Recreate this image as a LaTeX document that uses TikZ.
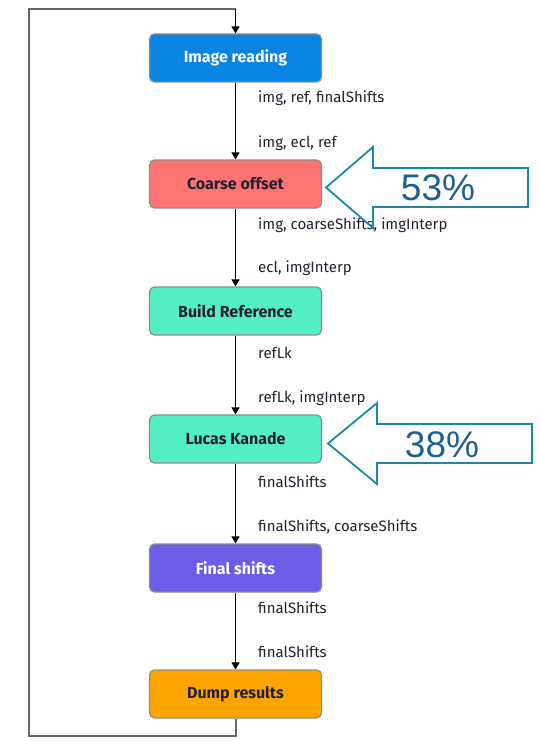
\documentclass[tikz,border=0pt]{standalone}
\usepackage{fontspec}
\setmainfont{Fira Sans}
\newfontfamily\pctfont{Liberation Sans}
\usetikzlibrary{arrows.meta}
\definecolor{cblue}{HTML}{0A84E3}
\definecolor{cred}{HTML}{FF7472}
\definecolor{cmint}{HTML}{55EFC4}
\definecolor{cviolet}{HTML}{6C5CE7}
\definecolor{corange}{HTML}{FFA502}
\definecolor{ctext}{HTML}{24202E}
\definecolor{cteal}{HTML}{1A88AA}
\definecolor{cpct}{HTML}{1E5F8E}
\begin{document}
\begin{tikzpicture}[x=1pt,y=-1pt,
  stage/.style={draw=black!45, line width=1.2pt, rounded corners=5pt,
    minimum width=172pt, minimum height=48pt, font=\fontsize{16}{18}\selectfont\bfseries, inner sep=0pt},
  lbl/.style={anchor=west, text=ctext, font=\fontsize{15}{17}\selectfont, inner sep=0pt},
  flow/.style={draw=black, line width=1.1pt, -{Triangle[width=8pt,length=7pt]}},
  loopline/.style={draw=black!60, line width=2pt},
  hollow/.style={draw=cteal, line width=1.8pt, line join=miter},
  pct/.style={text=cpct, font=\fontsize{37}{40}\selectfont\pctfont, inner sep=0pt}]
\useasboundingbox (0,0) rectangle (539,741);

% pipeline stages
\node[stage, fill=cblue, text=white] (img) at (235.5,58) {Image reading};
\node[stage, fill=cred, text=ctext] (coarse) at (235.5,184) {Coarse offset};
\node[stage, fill=cmint, text=ctext] (build) at (235.5,311) {Build Reference};
\node[stage, fill=cmint, text=ctext] (lk) at (235.5,439) {Lucas Kanade};
\node[stage, fill=cviolet, text=white] (final) at (235.5,568) {Final shifts};
\node[stage, fill=corange, text=ctext] (dump) at (235.5,694) {Dump results};

% data passed between stages
\node[lbl] (o1) at (258,98) {img, ref, finalShifts};
\node[lbl] (i1) at (258,143) {img, ecl, ref};
\node[lbl] (o2) at (258,225) {img, coarseShifts, imgInterp};
\node[lbl] (i2) at (258,268) {ecl, imgInterp};
\node[lbl] (o3) at (258,353) {refLk};
\node[lbl] (i3) at (258,398) {refLk, imgInterp};
\node[lbl] (o4) at (258,482) {finalShifts};
\node[lbl] (i4) at (258,527) {finalShifts, coarseShifts};
\node[lbl] (o5) at (258,608) {finalShifts};
\node[lbl] (i5) at (258,652) {finalShifts};

% stage-to-stage flow
\draw[flow] (img.south) -- (coarse.north);
\draw[flow] (coarse.south) -- (build.north);
\draw[flow] (build.south) -- (lk.north);
\draw[flow] (lk.south) -- (final.north);
\draw[flow] (final.south) -- (dump.north);

% loop back to the next image
\coordinate (lb) at (28.5,736);
\coordinate (lt) at (235.5,9);
\draw[loopline] (dump.south) |- (lb) |- (lt);
\draw[flow] (lt) -- (img.north);

% share of run time
\draw[hollow] (326,187.5) -- (373,147) -- (373,168) -- (528,168) -- (528,207)
  -- (373,207) -- (373,228) -- cycle;
\node[pct] (p1) at (438,188) {53\%};
\draw[hollow] (328,443.5) -- (377,403) -- (377,424) -- (532,424) -- (532,463)
  -- (377,463) -- (377,484) -- cycle;
\node[pct] (p2) at (442,445) {38\%};
\end{tikzpicture}
\end{document}
